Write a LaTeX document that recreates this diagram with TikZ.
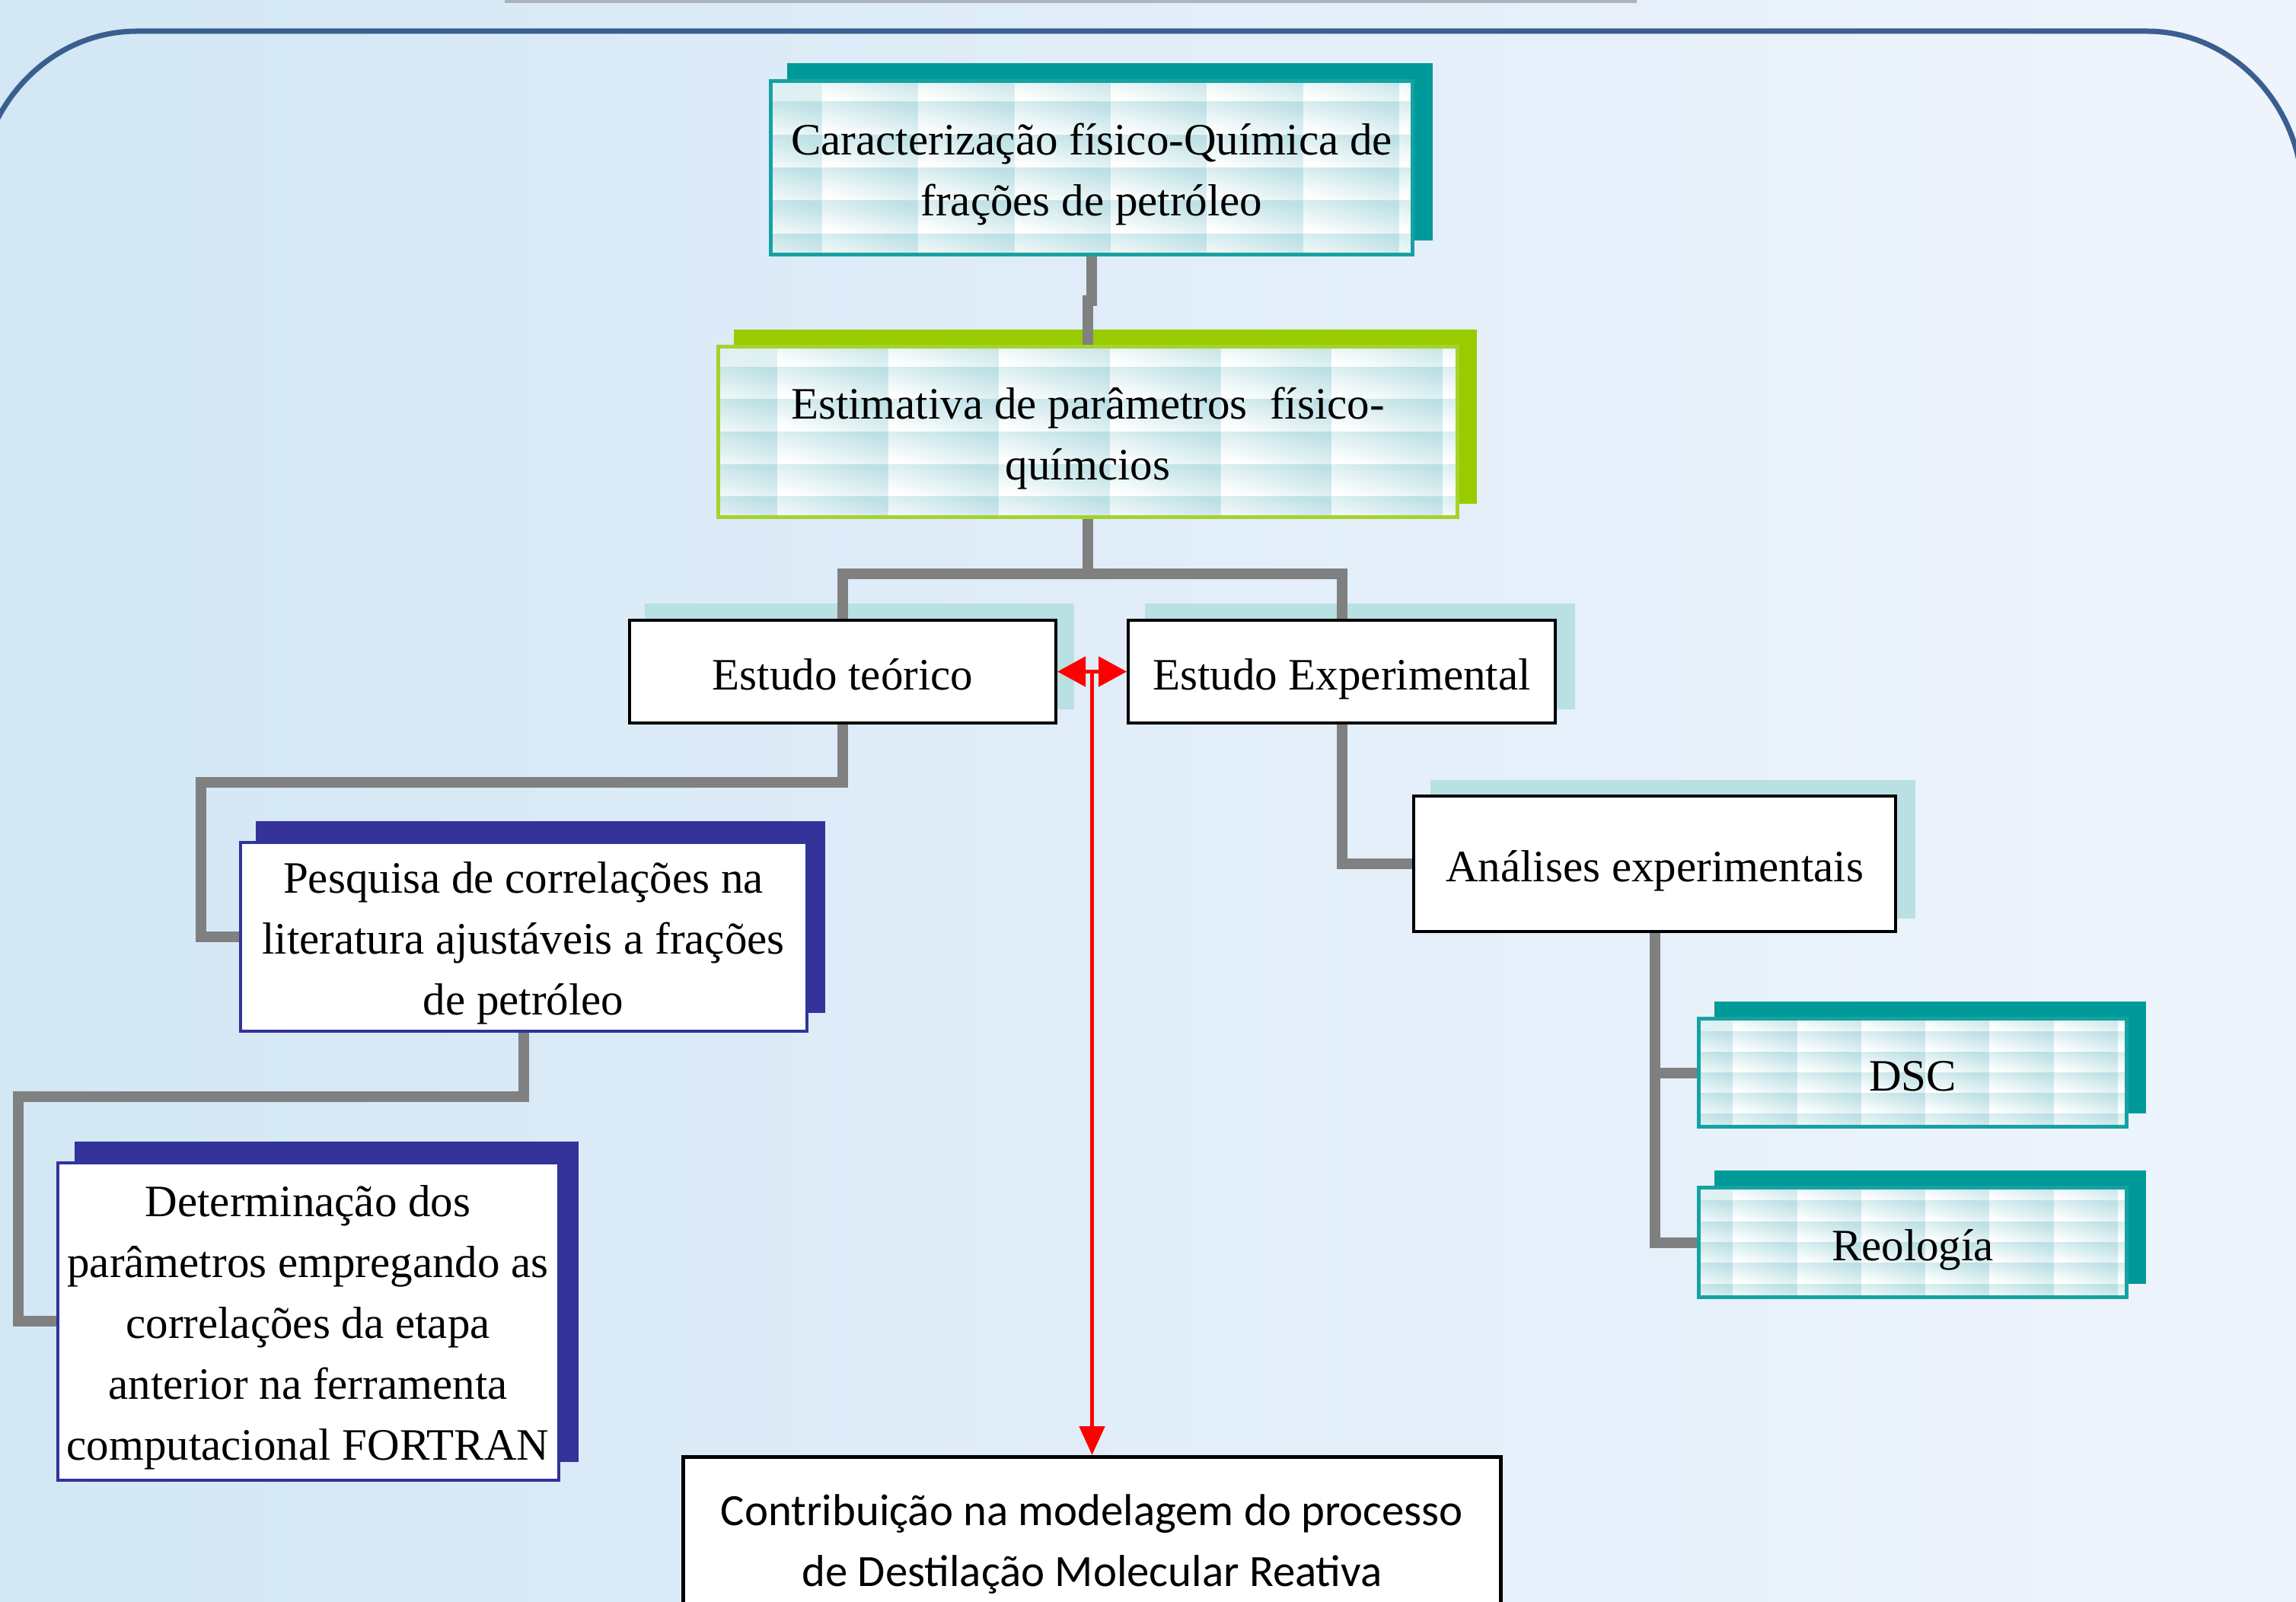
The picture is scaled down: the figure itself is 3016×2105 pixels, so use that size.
\documentclass[tikz,border=0pt]{standalone}
\usepackage{fontspec}
\setmainfont{Liberation Serif}
\newfontfamily\calib{Carlito}
\usetikzlibrary{arrows.meta,calc}
\pgfdeclarelayer{bgl}
\pgfdeclarelayer{shl}
\pgfsetlayers{bgl,shl,main}

\definecolor{bgL}{RGB}{211,231,245}
\definecolor{bgR}{RGB}{239,244,252}
\definecolor{frameC}{RGB}{58,94,143}
\definecolor{tealS}{RGB}{0,153,153}
\definecolor{tealB}{RGB}{22,162,162}
\definecolor{limeS}{RGB}{153,204,0}
\definecolor{limeB}{RGB}{166,210,45}
\definecolor{navyC}{RGB}{51,51,153}
\definecolor{paleS}{RGB}{185,224,227}
\definecolor{tileC}{RGB}{188,224,228}
\definecolor{connC}{RGB}{128,128,128}
\definecolor{barC}{RGB}{172,178,190}

\newcommand\firstup{\rule{0pt}{14.5pt}}
\newcommand\tilefill{%
  \pgfpointanchor{path picture bounding box}{south west}\pgfgetlastxy{\tAx}{\tAy}%
  \pgfpointanchor{path picture bounding box}{north east}\pgfgetlastxy{\tBx}{\tBy}%
  \foreach \i in {0,...,7}{\foreach \j in {0,...,5}{%
    \pgfmathsetmacro\tXa{\tAx+(\tBx-\tAx)*(0.08+0.15*(\i-1))}%
    \pgfmathsetmacro\tXb{\tXa+(\tBx-\tAx)*0.15}%
    \pgfmathsetmacro\tYa{\tBy-(\tBy-\tAy)*(0.12+0.19*(\j-1))}%
    \pgfmathsetmacro\tYb{\tYa-(\tBy-\tAy)*0.19}%
    \shade[top color=tileC, bottom color=white, shading angle=-15] (\tXa pt,\tYa pt) rectangle (\tXb pt,\tYb pt);
  }}%
}
\newcommand\shadowof[4]{\fill[#2] ($(#1.south west)+(#3,-#4)$) rectangle ($(#1.north east)+(#3,-#4)$);}

\tikzset{
  base/.style={rectangle, align=center, inner sep=0pt, font=\fontsize{14.75}{20}\selectfont},
  oneline/.style={text height=11.8pt, text depth=0pt},
  tiled/.style={fill=white, path picture={\tilefill}},
  tealbox/.style={base, tiled, draw=tealB, line width=1.25pt},
  limebox/.style={base, tiled, draw=limeB, line width=1.25pt},
  plainbox/.style={base, oneline, fill=white, draw=black, line width=1pt},
  navybox/.style={base, fill=white, draw=navyC, line width=1pt},
  conbox/.style={rectangle, align=center, inner sep=0pt, font=\calib\fontsize{14.7}{20}\selectfont, fill=white, draw=black, line width=1.25pt},
  conn/.style={draw=connC, line width=3.5pt, line join=miter},
  redarr/.style={draw=red, line width=1.25pt},
  frameline/.style={draw=frameC, line width=1.75pt},
}

\begin{document}
\begin{tikzpicture}[x=0.25pt,y=-0.25pt]
\useasboundingbox (0,0) rectangle (3016,2105);

% boxes
\node[tealbox, minimum width=210.75pt, minimum height=57pt] (car) at (1434,220.5)
  {\firstup Caracterização físico-Química de\\frações de petróleo};
\node[limebox, minimum width=242.75pt, minimum height=56pt] (est) at (1429,567.5)
  {\firstup Estimativa de parâmetros\ \ físico-\\químcios};
\node[plainbox, minimum width=140pt, minimum height=33.75pt] (teo) at (1107,882.5) {Estudo teórico};
\node[plainbox, minimum width=140.25pt, minimum height=33.75pt] (exp) at (1762.5,882.5) {Estudo Experimental};
\node[plainbox, minimum width=158.25pt, minimum height=44.5pt] (ana) at (2173.5,1135) {Análises experimentais};
\node[tealbox, oneline, minimum width=140.5pt, minimum height=35.5pt] (dsc) at (2512.5,1409.5) {DSC};
\node[tealbox, oneline, minimum width=140.5pt, minimum height=36pt] (reo) at (2512.5,1632.5) {Reología};
\node[navybox, minimum width=186pt, minimum height=62pt] (pes) at (687.5,1230.5)
  {\firstup Pesquisa de correlações na\\literatura ajustáveis a frações\\de petróleo};
\node[navybox, minimum width=164.5pt, minimum height=104.25pt] (det) at (404.5,1736)
  {\firstup Determinação dos\\parâmetros empregando as\\correlações da etapa\\anterior na ferramenta\\computacional FORTRAN};
\node[conbox, minimum width=268.5pt, minimum height=57.25pt] (con) at (1434.5,2029)
  {Contribuição na modelagem do processo\\de Destilação Molecular Reativa};

\coordinate (yj) at (0,395);
\coordinate (yb) at (0,754);
\coordinate (k1) at (264,1028);
\coordinate (k2) at (24,1441);

\begin{pgfonlayer}{bgl}
  \shade[left color=bgL, right color=bgR] (0,0) rectangle (3016,2105);
  \fill[barC] (663,-5) rectangle (2150,4);
  \draw[frameline] (-30,900) -- (-30,266)
    arc[start angle=180, end angle=90, x radius=52.5pt, y radius=56.25pt]
    -- (2820,41)
    arc[start angle=90, end angle=0, x radius=51.25pt, y radius=54.75pt]
    -- (3025,900);
\end{pgfonlayer}

\begin{pgfonlayer}{shl}
  \shadowof{car}{tealS}{24}{21}
  \shadowof{est}{limeS}{23}{20}
  \shadowof{teo}{paleS}{22}{20}
  \shadowof{exp}{paleS}{24}{20}
  \shadowof{ana}{paleS}{24}{19}
  \shadowof{dsc}{tealS}{23}{20}
  \shadowof{reo}{tealS}{23}{20}
  \shadowof{pes}{navyC}{22}{26}
  \shadowof{det}{navyC}{24}{26}
  % connectors
  \draw[conn] (car.south) -- (car.south |- yj) -- (est.north |- yj) -- (est.north);
  \draw[conn] (est.south) -- (est.south |- yb);
  \draw[conn] (teo.north) -- (teo.north |- yb) -- (exp.north |- yb) -- (exp.north);
  \draw[conn] (teo.south) |- (k1) |- (pes.west);
  \draw[conn] (pes.south) |- (k2) |- (det.west);
  \draw[conn] (exp.south) |- (ana.west);
  \draw[conn] (ana.south) |- (dsc.west);
  \draw[conn] (ana.south) |- (reo.west);
\end{pgfonlayer}

% red arrows
\draw[redarr, {Triangle[length=9.25pt,width=9.75pt]}-{Triangle[length=9.25pt,width=9.75pt]}] (teo.east) -- (exp.west);
\coordinate (mid) at ($(teo.east)!0.5!(exp.west)$);
\draw[redarr, -{Triangle[length=9.5pt,width=8.25pt]}] (mid) -- (con.north);
\end{tikzpicture}
\end{document}
